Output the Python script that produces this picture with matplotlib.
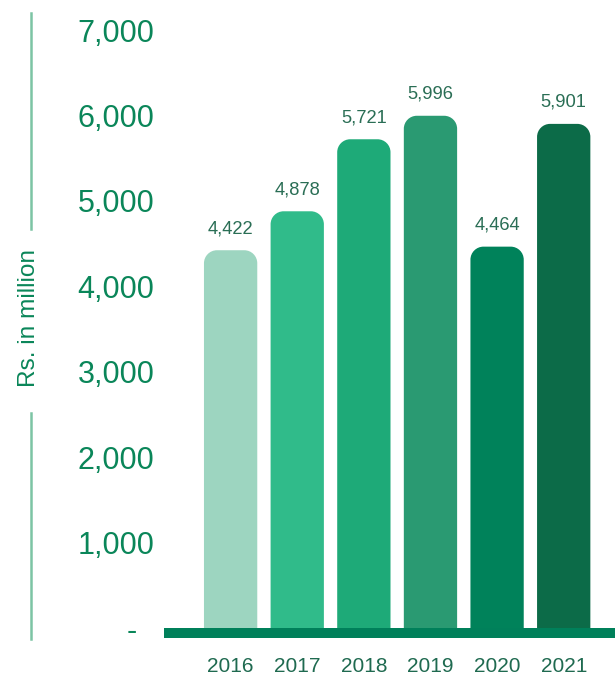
import matplotlib
matplotlib.use("Agg")
import matplotlib.pyplot as plt
from matplotlib.path import Path
from matplotlib.patches import PathPatch
from matplotlib.lines import Line2D

years = ["2016", "2017", "2018", "2019", "2020", "2021"]
values = [4422, 4878, 5721, 5996, 4464, 5901]
value_labels = ["4,422", "4,878", "5,721", "5,996", "4,464", "5,901"]
bar_colors = ["#9dd5c0", "#30bb8a", "#1eaa78", "#2a9a72", "#00825a", "#0c6b48"]
yticks = [0, 1000, 2000, 3000, 4000, 5000, 6000, 7000]
ytick_labels = ["-  ", "1,000", "2,000", "3,000", "4,000", "5,000", "6,000", "7,000"]

plt.rcParams['font.family'] = ['Liberation Sans', 'DejaVu Sans']

W, H = 615, 681
fig = plt.figure(figsize=(W / 100, H / 100), dpi=100)
left_px, right_px = 164, 615
top_px, bottom_px = 30, 638
ax = fig.add_axes([left_px / W, (H - bottom_px) / H, (right_px - left_px) / W, (bottom_px - top_px) / H])

ymin, ymax = -117, 7000
xmin, xmax = -1.0, 5.77
ax.set_ylim(ymin, ymax)
ax.set_xlim(xmin, xmax)

# pixel -> data scale
px_x = (xmax - xmin) / (right_px - left_px)
px_y = (ymax - ymin) / (bottom_px - top_px)

bar_w = 0.8
r_px = 13
rx, ry = r_px * px_x, r_px * px_y
k = 0.5523

def rounded_top_bar(xc, h):
    x0, x1 = xc - bar_w / 2, xc + bar_w / 2
    verts = [
        (x0, 0), (x0, h - ry),
        (x0, h - ry + k * ry), (x0 + rx - k * rx, h), (x0 + rx, h),
        (x1 - rx, h),
        (x1 - rx + k * rx, h), (x1, h - ry + k * ry), (x1, h - ry),
        (x1, 0), (x0, 0),
    ]
    codes = [Path.MOVETO, Path.LINETO,
             Path.CURVE4, Path.CURVE4, Path.CURVE4,
             Path.LINETO,
             Path.CURVE4, Path.CURVE4, Path.CURVE4,
             Path.LINETO, Path.CLOSEPOLY]
    return Path(verts, codes)

# baseline band
ax.axhspan(ymin, 0, color="#00805a", lw=0, zorder=3)

for i, (v, c, lab) in enumerate(zip(values, bar_colors, value_labels)):
    ax.add_patch(PathPatch(rounded_top_bar(i, v), facecolor=c, edgecolor="none", zorder=2))
    ax.text(i, v + 13 * px_y, lab, ha="center", va="bottom", fontsize=13.2, color="#2a6e55")

ax.set_yticks(yticks)
ax.set_yticklabels(ytick_labels, fontsize=22, color="#0a8659")
ax.set_xticks(range(len(years)))
ax.set_xticklabels(years, fontsize=15, color="#1f6a50")
ax.tick_params(axis="y", length=0, pad=7)
ax.tick_params(axis="x", length=0, pad=14)
for s in ax.spines.values():
    s.set_visible(False)

# left decorative line and axis title
lc = "#7cc4a4"
fig.add_artist(Line2D([31 / W, 31 / W], [1 - 13 / H, 1 - 229 / H], color=lc, lw=1.8))
fig.add_artist(Line2D([31 / W, 31 / W], [1 - 413 / H, 1 - 639 / H], color=lc, lw=1.8))
fig.text(29 / W, 1 - 318 / H, "Rs. in million", rotation=90, ha="center", va="center",
         fontsize=17.6, color="#0a8659")

fig.savefig("out.png", dpi=100)
